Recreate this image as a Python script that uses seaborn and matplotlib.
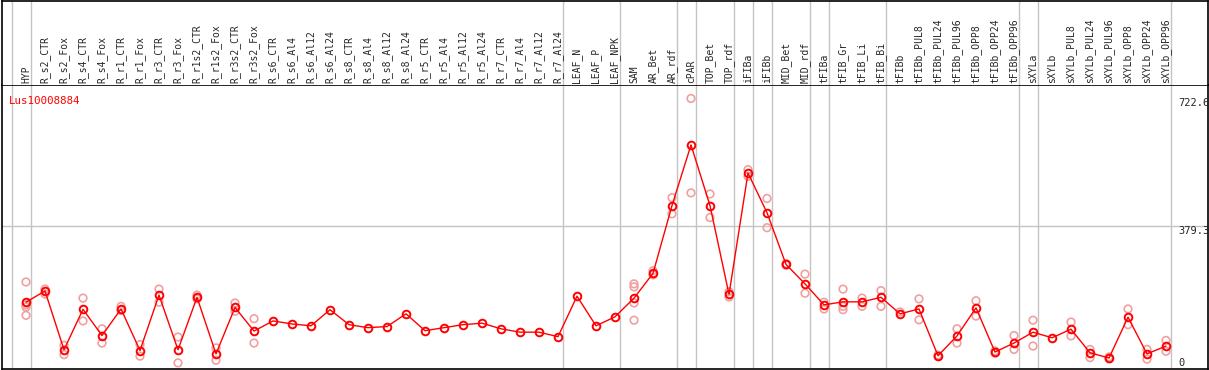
import numpy as np
import pandas as pd
import matplotlib
matplotlib.use("Agg")
import matplotlib.pyplot as plt
import seaborn as sns

# sample names, left to right
samples = ["HYP", "R_s2_CTR", "R_s2_Fox", "R_s4_CTR", "R_s4_Fox", "R_r1_CTR", "R_r1_Fox",
           "R_r3_CTR", "R_r3_Fox", "R_r1s2_CTR", "R_r1s2_Fox", "R_r3s2_CTR", "R_r3s2_Fox",
           "R_s6_CTR", "R_s6_Al4", "R_s6_Al12", "R_s6_Al24", "R_s8_CTR", "R_s8_Al4", "R_s8_Al12",
           "R_s8_Al24", "R_r5_CTR", "R_r5_Al4", "R_r5_Al12", "R_r5_Al24", "R_r7_CTR", "R_r7_Al4",
           "R_r7_Al12", "R_r7_Al24", "LEAF_N", "LEAF_P", "LEAF_NPK", "SAM", "AR_Bet", "AR_rdf",
           "cPAR", "TOP_Bet", "TOP_rdf", "iFIBa", "iFIBb", "MID_Bet", "MID_rdf", "tFIBa",
           "tFIB_Gr", "tFIB_Li", "tFIB_Bi", "tFIBb", "tFIBb_PUL8", "tFIBb_PUL24", "tFIBb_PUL96",
           "tFIBb_OPP8", "tFIBb_OPP24", "tFIBb_OPP96", "sXYLa", "sXYLb", "sXYLb_PUL8",
           "sXYLb_PUL24", "sXYLb_PUL96", "sXYLb_OPP8", "sXYLb_OPP24", "sXYLb_OPP96"]

# mean expression per sample
means = [177, 207, 50, 158, 88, 159, 48, 196, 50, 190, 39, 163, 100,
         127, 119, 114, 157, 117, 109, 112, 146, 101, 109, 117, 121, 106, 97, 97, 85,
         193, 114, 138, 188, 254, 435, 597, 435, 198, 522, 416, 278, 226, 170,
         178, 178, 190, 146, 159, 34, 87, 162, 44, 68, 97, 82, 105, 42, 28, 137, 39, 60]

# individual replicates per sample (empty = single value)
replicates = [[231, 164, 142, 170], [212, 199], [62, 37], [188, 127], [106, 68], [166, 155],
              [64, 33], [212, 177], [84, 15], [196, 186], [55, 22], [175, 153], [133, 68],
              [], [], [], [], [], [], [], [], [], [], [], [], [], [], [], [],
              [], [], [], [226, 218, 175, 129], [261, 250], [456, 413], [721, 469],
              [466, 403], [205, 191], [531, 513], [454, 376], [280, 276], [252, 201],
              [177, 159], [212, 166, 157], [188, 166], [208, 166], [151], [186, 130], [36, 32],
              [106, 68], [181, 140], [47, 41], [88, 51], [129, 60], [], [124, 87], [51, 29],
              [31, 26], [159, 117], [51, 25], [75, 46]]

# group separators (drawn just right of these sample indices)
group_breaks = [-1, 0, 28, 31, 34, 35, 37, 38, 39, 41, 42, 45, 52, 53, 60]

ytick_vals = [0, 379.3, 722.6]
ytick_text = ["0", "379.3", "722.6"]
gene = "Lus10008884"

pos = np.arange(len(samples))
df = pd.DataFrame({"pos": pos, "mean": means})
rep_df = pd.DataFrame([(i, v) for i, reps in enumerate(replicates) for v in reps],
                      columns=["pos", "value"])

sns.set_style("white")
plt.rcParams["font.family"] = ["DejaVu Sans Mono"]

W, H = 1209, 370
fig = plt.figure(figsize=(W / 100, H / 100), dpi=100)
px0, px1 = 1.5, 1207.5
x_left = (px0 - 26) / 19
x_right = (px1 - 26) / 19
header_h = 85

ax = fig.add_axes([px0 / W, 1.5 / H, (px1 - px0) / W, (H - header_h - 1.5) / H])
hx = fig.add_axes([px0 / W, (H - header_h) / H, (px1 - px0) / W, (header_h - 0.5) / H])

for a in (ax, hx):
    a.set_xlim(x_left, x_right)
    a.set_xticks([])
    a.set_yticks([])
    for s in a.spines.values():
        s.set_color("black")
        s.set_linewidth(1.2)
    for b in group_breaks:
        a.axvline(b + 0.25, color="#c4c4c4", lw=1, zorder=0)

ax.set_ylim(0, 757)
hx.set_ylim(0, 1)
hx.spines["bottom"].set_visible(False)
ax.axhline(379.3, color="#c4c4c4", lw=1, zorder=0)

sns.scatterplot(data=rep_df, x="pos", y="value", ax=ax, marker="o", s=30,
                facecolor="none", edgecolor="#f0a0a0", linewidth=1.2, zorder=2)
sns.lineplot(data=df, x="pos", y="mean", ax=ax, color="red", lw=1, marker="o",
             markersize=5.5, markerfacecolor="none", markeredgecolor="red",
             markeredgewidth=1.4, zorder=3)
ax.set_xlabel("")
ax.set_ylabel("")

for i, name in enumerate(samples):
    hx.text(i, 2 / header_h, name, rotation=90, ha="center", va="bottom", fontsize=7)

for v, t in zip(ytick_vals, ytick_text):
    ax.text(60.63, v, t, ha="left", va="bottom" if v == 0 else "top", fontsize=7.5,
            clip_on=False)

ax.text(0.006, 0.96, gene, transform=ax.transAxes, color="red", fontsize=7.8,
        ha="left", va="top")

fig.savefig("out.png", dpi=100)
